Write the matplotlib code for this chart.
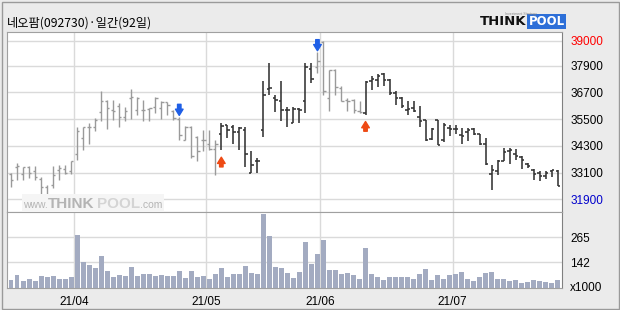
#%%### Imports
import numpy as np
import matplotlib as mpl
import matplotlib.pyplot as plt

#%%### Data
title = '네오팜(092730)·일간(92일)'
month_labels = ['21/04', '21/05', '21/06', '21/07']
## index of the first trading day of each month
month_start = [11, 33, 52, 74]

high = [
    33100, 33550, 33350, 33400, 33400, 32900, 32550, 33400, 33450, 33450,
    33600, 35150, 35150, 35300, 35550, 36750, 36350, 36350, 36200, 36050,
    36850, 36500, 36350, 36000, 36500, 36300, 36250, 35900, 35600, 35200,
    35200, 34750, 35000, 35000, 34550, 35300, 35250, 35250, 35150, 35150,
    34050, 33750, 37200, 38000, 36600, 37200, 36050, 36050, 36000, 38000,
    38000, 38500, 39000, 37700, 37750, 37000, 36450, 36400, 36300, 37200,
    37450, 37500, 37550, 37300, 36750, 36500, 36300, 36300, 36100, 35450,
    35100, 35450, 35300, 35250, 35250, 35100, 35100, 35100, 34850, 34650,
    33450, 33650, 34200, 34200, 34150, 33850, 33550, 33250, 33150, 33150,
    33200, 33200,
]
low = [
    32450, 32750, 32750, 32850, 32750, 32150, 31900, 32400, 32750, 33050,
    33050, 33650, 34100, 34400, 34950, 35400, 35050, 35450, 35150, 35400,
    35500, 35700, 35400, 35400, 35750, 35500, 35700, 35450, 34550, 34550,
    33750, 33600, 34050, 34100, 33000, 34100, 34650, 34400, 34100, 33350,
    33100, 33100, 34700, 36600, 35800, 35400, 35150, 35300, 35300, 35750,
    37100, 37550, 36600, 35850, 36600, 36300, 35850, 35750, 35750, 35700,
    36800, 36950, 37000, 36600, 36150, 36000, 35700, 35800, 35150, 34500,
    34550, 34350, 34450, 34750, 34850, 34400, 34500, 34800, 34350, 33450,
    32300, 33000, 33600, 33500, 33650, 33250, 33300, 32750, 32700, 32800,
    32900, 32500,
]
opn = [
    33050, 33350, 33050, 33350, 33150, 32800, 32450, 32550, 33200, 33250,
    33150, 33950, 34650, 35150, 35150, 35800, 36300, 35900, 36100, 35600,
    36450, 35900, 35900, 35950, 36050, 36000, 36250, 35850, 35500, 34550,
    35150, 34700, 34550, 34400, 34150, 34850, 35250, 35150, 34900, 35000,
    33100, 33600, 35000, 36850, 36450, 36300, 35900, 35300, 35950, 36300,
    37750, 37850, 38950, 36450, 37700, 36900, 36350, 36350, 35850, 35750,
    37200, 37250, 37500, 37250, 36650, 36450, 35900, 36000, 35600, 35450,
    34600, 35450, 34550, 35100, 35050, 34800, 34900, 35050, 34850, 34400,
    33050, 33150, 33600, 34050, 33950, 33800, 33500, 33200, 33100, 32950,
    33150, 33150,
]
close = [
    32750, 33400, 33350, 33100, 32900, 32450, 32000, 33000, 33300, 33100,
    33600, 34950, 35150, 35150, 35450, 36300, 36000, 35850, 35600, 35850,
    36500, 36450, 35900, 36000, 36450, 36250, 36150, 35550, 34800, 35150,
    33850, 34050, 34550, 34150, 34400, 35200, 35000, 34900, 35100, 33950,
    33450, 33600, 36600, 36900, 36350, 35900, 35900, 35950, 35900, 37850,
    37300, 38100, 36750, 37700, 36950, 36300, 36300, 35900, 35800, 37150,
    37300, 37450, 37250, 36650, 36450, 36100, 35950, 35850, 35400, 34550,
    35050, 34350, 35250, 35050, 35050, 34750, 35000, 34850, 34400, 33500,
    33200, 33600, 34000, 34100, 33850, 33650, 33400, 33050, 32950, 33100,
    33200, 32500,
]
## x1000 shares
volume = [
    55, 79, 50, 60, 50, 74, 69, 74, 60, 60,
    69, 278, 143, 128, 114, 173, 99, 69, 79, 74,
    119, 74, 84, 84, 74, 79, 74, 74, 99, 64,
    99, 69, 74, 60, 84, 114, 69, 84, 84, 123,
    89, 84, 380, 271, 119, 114, 89, 64, 94, 242,
    133, 183, 252, 104, 104, 84, 89, 79, 60, 212,
    84, 69, 55, 69, 69, 69, 69, 60, 84, 109,
    55, 79, 60, 79, 84, 94, 60, 50, 69, 89,
    94, 60, 60, 50, 55, 40, 45, 55, 50, 45,
    40, 55,
]
sell_days = [28, 51]
buy_days = [35, 59]
price_ticks = [31900, 33100, 34300, 35500, 36700, 37900, 39000]
vol_ticks = [142, 265]

#%%### Layout (pixel boxes)
W, H = 620, 310
def box(x0, y0, x1, y1):
    return [x0/W, 1 - y1/H, (x1 - x0)/W, (y1 - y0)/H]

gray_bar, dark_bar = '#9a9a9a', '#333333'
gridc = '#dadada'
framec = '#a0a0a0'

plt.rcParams['font.family'] = ['Liberation Sans', 'DejaVu Sans']

x = np.arange(len(close))
## Bar colour follows the last signal: dark after a buy, gray otherwise
signal = np.zeros(len(close))
for i in sorted(buy_days + sell_days):
    signal[i:] = 1 if i in buy_days else 0
colors = [dark_bar if s else gray_bar for s in signal]
widths = [1.15 if s else 1.0 for s in signal]

#%%### Figure
f = plt.figure(figsize=(W/100, H/100), dpi=100, facecolor='#ebebeb')
f.patches.append(mpl.patches.Rectangle(
    (1.5/W, 1.5/H), 1 - 3/W, 1 - 3/H, transform=f.transFigure,
    facecolor='none', edgecolor='#9a9a9a', lw=1.0,
))

ax = f.add_axes(box(7, 31.7, 562, 212.3))
axv = f.add_axes(box(7, 212.3, 562, 287.5), sharex=ax)

#%% Price panel
ax.set_xlim(-0.67, 91.7)
ax.set_ylim(31317, 39417)
for p in price_ticks:
    ax.axhline(p, color=gridc, lw=1.0, zorder=0)
for m in month_start:
    ax.axvline(m - 0.5, color=gridc, lw=1.0, zorder=0)
    axv.axvline(m - 0.5, color=gridc, lw=1.0, zorder=0)

ax.vlines(x, low, high, colors=colors, lw=widths, zorder=3)
ax.hlines(opn, x - 0.38, x, colors=colors, lw=widths, zorder=3)
ax.hlines(close, x, x + 0.38, colors=colors, lw=widths, zorder=3)

arrow = 'simple,head_length=0.45,head_width=0.55,tail_width=0.25'
for i in sell_days:
    ax.annotate(
        '', xy=(i, high[i]), xytext=(0, 9), textcoords='offset points',
        arrowprops=dict(arrowstyle=arrow, color='#1f5fe6', shrinkA=0, shrinkB=1),
        zorder=5,
    )
for i in buy_days:
    ax.annotate(
        '', xy=(i, low[i]), xytext=(0, -12), textcoords='offset points',
        arrowprops=dict(arrowstyle=arrow, color='#ee4a14', shrinkA=0, shrinkB=5),
        zorder=5,
    )

ax.yaxis.tick_right()
ax.set_yticks(price_ticks)
ax.set_yticklabels([f'{p}' for p in price_ticks])
ax.tick_params(axis='y', length=0, pad=6, labelsize=8.5)
ax.tick_params(axis='x', length=0, labelbottom=False)
for lab, p in zip(ax.get_yticklabels(), price_ticks):
    lab.set_color('#ff0000' if p == max(price_ticks) else '#0000cc' if p == min(price_ticks) else 'k')
for side in ['left', 'top', 'bottom']:
    ax.spines[side].set_color(framec)
ax.spines['right'].set_color('#808080')

## Watermark
f.patches.append(mpl.patches.Rectangle(
    (22/W, 1 - 212/H), 142/W, 18/H, transform=f.transFigure,
    facecolor='#f5f5f5', edgecolor='none', zorder=4,
))
f.text(23/W, 1 - 205.5/H, 'www.', fontsize=7.5, color='#b4b4b4', va='center', zorder=5)
f.text(48/W, 1 - 204.5/H, 'THINK', fontsize=11, fontweight='bold', color='#b4b4b4',
       va='center', zorder=5)
f.text(97/W, 1 - 204.5/H, 'POOL', fontsize=11, fontweight='bold', color='#d4d4d4',
       va='center', zorder=5)
f.text(140/W, 1 - 205.5/H, '.com', fontsize=7.5, color='#b4b4b4', va='center', zorder=5)

#%% Volume panel
axv.set_ylim(18, 388)
for v in vol_ticks:
    axv.axhline(v, color=gridc, lw=1.0, zorder=0)
axv.bar(x, volume, width=0.82, color='#a3abc1', zorder=2)
axv.yaxis.tick_right()
axv.set_yticks([25] + vol_ticks)
axv.set_yticklabels(['x1000'] + [str(v) for v in vol_ticks])
axv.tick_params(axis='y', length=0, pad=6, labelsize=8.5)
axv.set_xticks([m - 0.5 for m in month_start])
axv.set_xticklabels(month_labels)
axv.tick_params(axis='x', length=0, pad=6, labelsize=8.5)
for side in ['left', 'top', 'bottom']:
    axv.spines[side].set_color(framec)
axv.spines['right'].set_color('#808080')

#%% Title and logo
f.text(7/W, 1 - 23/H, title, fontsize=8.8, va='center',
       family=['Noto Sans CJK KR', 'DejaVu Sans'])
f.text(480/W, 1 - 21.5/H, 'THINK', fontsize=9.5, fontweight='bold', color='#111111',
       va='center', family='DejaVu Sans')
f.text(528.5/W, 1 - 21.5/H, 'POOL', fontsize=8.5, fontweight='bold', color='white',
       va='center', family='DejaVu Sans',
       bbox=dict(boxstyle='square,pad=0.12', facecolor='#2d6fd8', edgecolor='none'))
f.text(505/W, 1 - 14/H, 'Investment Strategy', fontsize=2.5, color='#888888', va='center')

plt.savefig('out.png', dpi=100, facecolor=f.get_facecolor())
